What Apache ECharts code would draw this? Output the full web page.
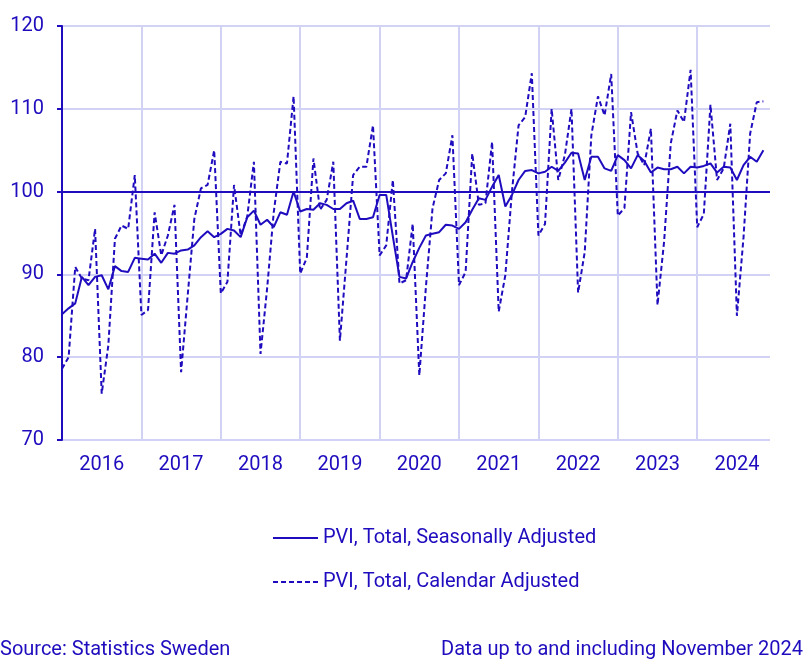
<!DOCTYPE html>
<html>
<head>
<meta charset="utf-8">
<script src="https://cdn.jsdelivr.net/npm/echarts@6/dist/echarts.min.js"></script>
<style>
  html, body { margin: 0; padding: 0; background: #ffffff; }
  #chart { width: 810px; height: 671px; }
</style>
</head>
<body>
<div id="chart"></div>
<script>
// ---- Data ----
const years = ['2016', '2017', '2018', '2019', '2020', '2021', '2022', '2023', '2024'];
const monthCodes = ['01','02','03','04','05','06','07','08','09','10','11','12'];

// PVI, Total, Seasonally Adjusted (Jan 2016 – Nov 2024)
const seasonallyAdjusted = [
  85.2, 85.9, 86.5, 89.7, 88.7, 89.7, 89.9, 88.2, 91.0, 90.4, 90.3, 92.0,
  91.9, 91.8, 92.5, 91.4, 92.6, 92.5, 92.9, 93.0, 93.5, 94.5, 95.2, 94.5,
  94.9, 95.5, 95.3, 94.5, 96.9, 97.7, 96.0, 96.6, 95.7, 97.5, 97.2, 100.0,
  97.6, 97.9, 97.8, 98.6, 98.4, 97.9, 97.9, 98.6, 98.9, 96.7, 96.7, 96.9,
  99.6, 99.6, 94.6, 89.7, 89.5, 91.5, 93.2, 94.7, 94.9, 95.1, 96.0, 95.9,
  95.5, 96.3, 97.8, 99.2, 99.0, 100.6, 102.0, 98.2, 99.6, 101.4, 102.5, 102.6,
  102.2, 102.4, 103.0, 102.5, 103.5, 104.7, 104.6, 101.4, 104.2, 104.2, 102.8, 102.5,
  104.4, 103.8, 102.8, 104.4, 103.7, 102.3, 102.9, 102.7, 102.7, 103.0, 102.2, 103.0,
  102.9, 103.1, 103.4, 102.3, 103.0, 102.9, 101.4, 103.2, 104.2, 103.6, 105.0
];

// PVI, Total, Calendar Adjusted (Jan 2016 – Nov 2024)
const calendarAdjusted = [
  78.6, 80.0, 90.9, 89.5, 89.3, 95.5, 75.6, 81.4, 94.3, 95.9, 95.5, 102.0,
  85.1, 85.7, 97.5, 92.3, 94.7, 98.4, 78.2, 87.5, 96.7, 100.4, 100.8, 105.0,
  87.7, 89.1, 100.8, 94.7, 97.0, 103.6, 80.4, 88.3, 97.5, 103.6, 103.4, 111.5,
  90.1, 92.0, 104.0, 97.8, 99.0, 103.6, 82.0, 91.9, 102.0, 103.0, 103.0, 108.0,
  92.3, 93.5, 101.4, 88.9, 89.3, 96.1, 77.8, 88.5, 98.0, 101.4, 102.2, 106.8,
  88.7, 90.3, 104.6, 98.4, 98.6, 106.0, 85.5, 89.9, 100.0, 108.0, 109.0, 114.3,
  94.7, 96.1, 110.0, 101.4, 104.4, 110.0, 87.8, 92.7, 106.8, 111.5, 109.2, 114.2,
  97.1, 98.0, 109.6, 104.6, 103.2, 107.6, 86.3, 94.0, 105.8, 109.8, 108.4, 114.7,
  95.7, 97.3, 110.5, 101.4, 102.8, 108.2, 85.0, 94.5, 107.0, 110.8, 110.9
];

const yTicks = [70, 80, 90, 100, 110, 120];
const baseline = 100;

// ---- Build categories ----
const categories = [];
years.forEach(y => monthCodes.forEach(m => categories.push(y + '-' + m)));

const BLUE = '#1e0cbe';
const GRID = '#d2d2f4';
const FONT = 'Roboto';

const chart = echarts.init(document.getElementById('chart'), null, { renderer: 'canvas' });

chart.setOption({
  animation: false,
  backgroundColor: '#ffffff',
  textStyle: { fontFamily: FONT, color: BLUE },
  grid: { left: 62, top: 26, right: 40, bottom: 231, containLabel: false },
  xAxis: {
    type: 'category',
    data: categories,
    boundaryGap: false,
    axisLine: { show: false },
    axisTick: { show: false },
    axisLabel: {
      interval: (idx) => idx % 12 === 6,
      formatter: (v) => v.slice(0, 4),
      color: BLUE,
      fontFamily: FONT,
      fontSize: 20,
      margin: 15
    },
    splitLine: {
      show: true,
      interval: (idx) => idx % 12 === 0 && idx > 0,
      lineStyle: { color: GRID, width: 2 }
    }
  },
  yAxis: {
    type: 'value',
    min: yTicks[0],
    max: yTicks[yTicks.length - 1],
    interval: 10,
    axisLine: { show: true, lineStyle: { color: BLUE, width: 2 } },
    axisTick: { show: true, length: 5, lineStyle: { color: BLUE, width: 2 } },
    axisLabel: { color: BLUE, fontFamily: FONT, fontSize: 20, margin: 18 },
    splitLine: { show: true, lineStyle: { color: GRID, width: 2 } }
  },
  legend: {
    orient: 'vertical',
    left: 272,
    top: 528,
    padding: 0,
    itemWidth: 45,
    itemHeight: 14,
    itemGap: 24,
    itemStyle: { opacity: 0 },
    textStyle: { color: BLUE, fontFamily: FONT, fontSize: 20 },
    data: ['PVI, Total, Seasonally Adjusted', 'PVI, Total, Calendar Adjusted']
  },
  series: [
    {
      name: 'PVI, Total, Seasonally Adjusted',
      type: 'line',
      data: seasonallyAdjusted,
      symbol: 'none',
      z: 3,
      lineStyle: { color: BLUE, width: 2, type: 'solid' },
      itemStyle: { color: BLUE },
      markLine: {
        silent: true,
        symbol: 'none',
        label: { show: false },
        lineStyle: { color: BLUE, width: 2, type: 'solid' },
        data: [{ yAxis: baseline }]
      }
    },
    {
      name: 'PVI, Total, Calendar Adjusted',
      type: 'line',
      data: calendarAdjusted,
      symbol: 'none',
      z: 2,
      lineStyle: { color: BLUE, width: 2, type: [5, 3] },
      itemStyle: { color: BLUE }
    }
  ],
  graphic: [
    {
      type: 'text',
      left: 0,
      top: 640,
      style: { text: 'Source: Statistics Sweden', fill: BLUE, font: '20px ' + FONT }
    },
    {
      type: 'text',
      right: 7,
      top: 640,
      style: { text: 'Data up to and including November 2024', fill: BLUE, font: '20px ' + FONT }
    }
  ]
});
</script>
</body>
</html>
